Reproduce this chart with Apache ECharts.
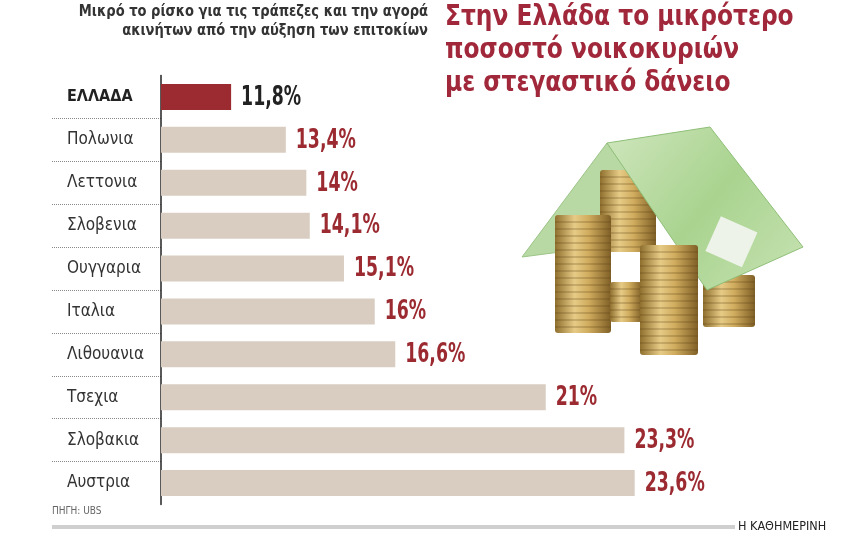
<!DOCTYPE html>
<html>
<head>
<meta charset="utf-8">
<script src="https://cdn.jsdelivr.net/npm/echarts@6/dist/echarts.min.js"></script>
<style>
  html, body { margin: 0; padding: 0; background: #fff; }
  #chart { width: 860px; height: 538px; }
</style>
</head>
<body>
<div id="chart"></div>
<script>
// data
var countries = ['ΕΛΛΑΔΑ', 'Πολωνια', 'Λεττονια', 'Σλοβενια', 'Ουγγαρια', 'Ιταλια', 'Λιθουανια', 'Τσεχια', 'Σλοβακια', 'Αυστρια'];
var shares = [11.8, 13.4, 14, 14.1, 15.1, 16, 16.6, 21, 23.3, 23.6];
var highlight = 'ΕΛΛΑΔΑ';

var titleLines = ['Στην Ελλάδα το μικρότερο', 'ποσοστό νοικοκυριών', 'με στεγαστικό δάνειο'];
var subtitleLines = ['Μικρό το ρίσκο για τις τράπεζες και την αγορά', 'ακινήτων από την αύξηση των επιτοκίων'];
var sourceText = 'ΠΗΓΗ: UBS';
var brandText = 'Η ΚΑΘΗΜΕΡΙΝΗ';

var FONT = '"DejaVu Sans Condensed", "Liberation Sans Narrow", sans-serif';
var RED = '#9b2a31';
var BEIGE = '#d9cdc1';

var chart = echarts.init(document.getElementById('chart'));

function fmt(v) {
  return String(v).replace('.', ',') + '%';
}

// coin stacks for the little house picture (decoration only)
function coinStack(x, y, w, h) {
  var kids = [{
    type: 'rect',
    shape: { x: x, y: y, width: w, height: h, r: 3 },
    style: {
      fill: new echarts.graphic.LinearGradient(0, 0, 1, 0, [
        { offset: 0, color: '#8f6f2e' },
        { offset: 0.35, color: '#e6cb86' },
        { offset: 0.6, color: '#d0ac5e' },
        { offset: 1, color: '#7f5f26' }
      ])
    }
  }];
  for (var yy = y + 7; yy < y + h; yy += 7) {
    kids.push({
      type: 'line',
      shape: { x1: x, y1: yy, x2: x + w, y2: yy },
      style: { stroke: 'rgba(90,65,20,0.45)', lineWidth: 1 }
    });
  }
  return { type: 'group', children: kids };
}

var graphics = [];
titleLines.forEach(function (t, i) {
  graphics.push({
    type: 'text', x: 445, y: 3 + i * 33, scaleX: 0.895,
    style: { text: t, fill: '#a1283a', font: 'bold 29px ' + FONT }
  });
});
subtitleLines.forEach(function (t, i) {
  graphics.push({
    type: 'text', x: 428, y: 5 + i * 19, scaleX: 0.97,
    style: { text: t, align: 'right', fill: '#333', font: 'bold 15px ' + FONT }
  });
});
graphics.push(
  { type: 'text', left: 52, top: 506, style: { text: sourceText, fill: '#666', font: '10px ' + FONT } },
  { type: 'rect', shape: { x: 52, y: 525, width: 683, height: 4 }, style: { fill: '#cfcfcf' } },
  { type: 'text', x: 738, y: 520, style: { text: brandText, fill: '#222', font: '12.5px ' + FONT } },
  // roof, left side
  { type: 'polygon', shape: { points: [[607, 143], [522, 257], [560, 252], [640, 190]] },
    style: { fill: '#b8d9a4', stroke: '#9cc487' } },
  coinStack(600, 170, 56, 82),
  coinStack(555, 215, 56, 118),
  coinStack(610, 282, 32, 40),
  coinStack(703, 275, 52, 52),
  // roof, right side (banknote)
  { type: 'polygon', shape: { points: [[607, 143], [710, 127], [803, 247], [707, 290]] },
    style: {
      fill: new echarts.graphic.LinearGradient(0, 0, 1, 1, [
        { offset: 0, color: '#cfe6bd' },
        { offset: 0.5, color: '#a9d38f' },
        { offset: 1, color: '#c8e3b4' }
      ]),
      stroke: '#8fbf78'
    } },
  { type: 'rect', shape: { x: 712, y: 222, width: 40, height: 38 }, style: { fill: '#eef3ea' }, rotation: -0.42, originX: 730, originY: 240 },
  coinStack(640, 245, 58, 110)
);

var option = {
  backgroundColor: '#fff',
  animation: false,
  graphic: graphics,
  grid: [
    { left: 161, top: 75.5, width: 684, height: 429 },
    { left: 52, top: 75.5, width: 109, height: 429 }
  ],
  xAxis: [
    { gridIndex: 0, type: 'value', min: 9.75, max: 29.75, show: false },
    { gridIndex: 1, type: 'value', show: false }
  ],
  yAxis: [
    {
      gridIndex: 0, type: 'category', data: countries, inverse: true,
      axisLine: { show: true, lineStyle: { color: '#222', width: 1.5 } },
      axisTick: { show: false }, axisLabel: { show: false }, splitLine: { show: false }
    },
    {
      gridIndex: 1, type: 'category', data: countries, inverse: true,
      axisLine: { show: false }, axisTick: { show: false },
      splitLine: {
        show: true, showMinLine: false, showMaxLine: false,
        lineStyle: { color: '#888', type: 'dotted', width: 1 }
      },
      axisLabel: {
        align: 'left', margin: -15,
        formatter: function (v) {
          return v === highlight ? '{b|' + v + '}' : '{n|' + v + '}';
        },
        rich: {
          b: { fontFamily: FONT, fontWeight: 'bold', fontSize: 16, color: '#222' },
          n: { fontFamily: FONT, fontSize: 17, color: '#333' }
        }
      }
    }
  ],
  series: [{
    type: 'bar', xAxisIndex: 0, yAxisIndex: 0,
    barWidth: 26,
    data: shares.map(function (v, i) {
      return { value: v, itemStyle: { color: countries[i] === highlight ? RED : BEIGE } };
    })
  }, {
    // value labels, drawn condensed to match the narrow newspaper face
    type: 'custom', xAxisIndex: 0, yAxisIndex: 0,
    data: shares.map(function (v, i) { return [v, i]; }),
    encode: { x: 0, y: 1 },
    renderItem: function (params, api) {
      var v = api.value(0);
      var i = api.value(1);
      var pt = api.coord([v, i]);
      return {
        type: 'text', x: pt[0] + 10, y: pt[1] + 1, scaleX: 0.74,
        style: {
          text: fmt(v), verticalAlign: 'middle',
          fill: countries[i] === highlight ? '#222' : RED,
          font: 'bold 26px ' + FONT
        }
      };
    }
  }]
};

chart.setOption(option);
</script>
</body>
</html>
